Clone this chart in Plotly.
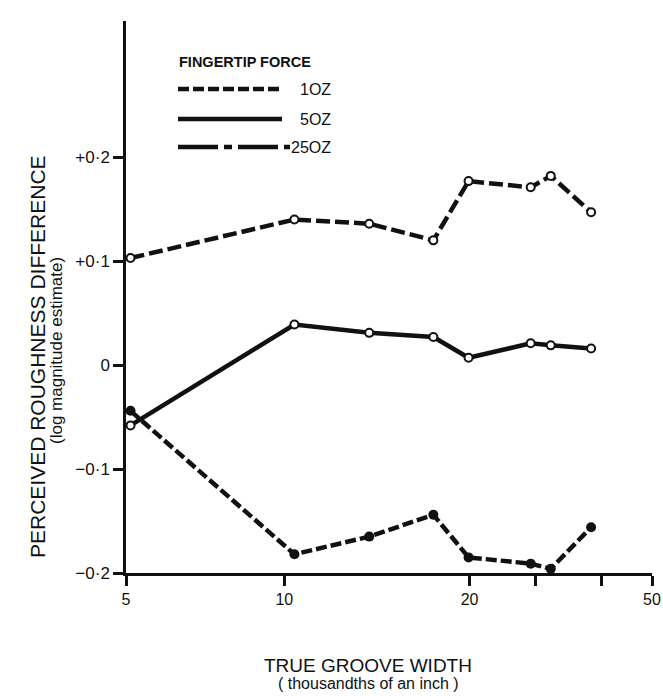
import plotly.graph_objects as go
import math

# ---- data ----
groove_width = [5.1, 10.45, 14.5, 19.2, 22.4, 29.4, 32.1, 38.3]
force_1oz = [-0.044, -0.182, -0.165, -0.144, -0.185, -0.191, -0.196, -0.156]
force_5oz = [-0.058, 0.039, 0.031, 0.027, 0.007, 0.021, 0.019, 0.016]
force_25oz = [0.103, 0.140, 0.136, 0.120, 0.177, 0.171, 0.182, 0.147]

x_tickvals = [5, 10, 22.5, 30, 40, 50]
x_ticktext = ["5", "10", "20", "", "", "50"]
x_top_tickvals = [10, 22.5, 30, 40]
y_tickvals = [0.2, 0.1, 0, -0.1, -0.2]
y_ticktext = ["+0·2", "+0·1", "0", "−0·1", "−0·2"]
y_right_tickvals = [0.2, 0.1, 0, -0.1]

legend_title = "FINGERTIP FORCE"
legend_labels = ["1OZ", "5OZ", "25OZ"]

FONT = "Liberation Sans"
NARROW = "Liberation Sans Narrow, Liberation Sans, Arial"
INK = "#111111"

fig = go.Figure()

fig.add_trace(go.Scatter(
    x=groove_width, y=force_25oz, mode="lines+markers", name="25OZ",
    line=dict(color=INK, width=4.5, dash="14px,5px"),
    marker=dict(symbol="circle", size=8, color="white", line=dict(color=INK, width=2)),
    showlegend=False))
fig.add_trace(go.Scatter(
    x=groove_width, y=force_1oz, mode="lines+markers", name="1OZ",
    line=dict(color=INK, width=4.5, dash="11px,4px"),
    marker=dict(symbol="circle", size=10, color=INK),
    showlegend=False))
fig.add_trace(go.Scatter(
    x=groove_width, y=force_5oz, mode="lines+markers", name="5OZ",
    line=dict(color=INK, width=4.5),
    marker=dict(symbol="circle", size=8, color="white", line=dict(color=INK, width=2)),
    showlegend=False))

xrange = [math.log10(5), math.log10(50)]
yrange = [-0.2, 0.331]

common = dict(showgrid=False, zeroline=False, automargin=False,
              showline=True, linewidth=2.5, linecolor=INK,
              ticks="outside", tickwidth=2.5, tickcolor=INK)

fig.update_layout(
    width=663, height=696,
    margin=dict(l=126, r=11, t=21, b=123, autoexpand=False),
    paper_bgcolor="white", plot_bgcolor="white",
    font=dict(family=FONT, color=INK, size=14),
    xaxis=dict(type="log", range=xrange, tickmode="array",
               tickvals=x_tickvals, ticktext=x_ticktext, ticklen=10,
               tickfont=dict(family=FONT, size=16, color=INK), **common),
    yaxis=dict(range=yrange, tickmode="array",
               tickvals=y_tickvals, ticktext=y_ticktext, ticklen=10,
               tickfont=dict(family=FONT, size=17, color=INK), **common),
    xaxis2=dict(type="log", range=xrange, overlaying="x", side="top", anchor="y",
                tickmode="array", tickvals=x_top_tickvals, showticklabels=False,
                ticklen=12, **common),
    yaxis2=dict(range=yrange, overlaying="y", side="right", anchor="x",
                tickmode="array", tickvals=y_right_tickvals, showticklabels=False,
                ticklen=10, **common),
)

# ---- hand-drawn style legend (paper coordinates) ----
def px_x(px):
    return (px - 126) / 526.0

def px_y(py):
    return (573 - py) / 552.0

legend_rows = [
    (89, 282, "11px,4px"),
    (119, 282, "solid"),
    (147, 290, "40px,6px,8px,6px"),
]
for (py, xend, dash), label in zip(legend_rows, legend_labels):
    fig.add_shape(type="line", xref="paper", yref="paper",
                  x0=px_x(178), x1=px_x(xend), y0=px_y(py), y1=px_y(py),
                  line=dict(color=INK, width=4.5, dash=dash))
    fig.add_annotation(xref="paper", yref="paper", x=px_x(333), y=px_y(py),
                       text=label, showarrow=False, xanchor="right", yanchor="middle",
                       font=dict(family=NARROW, size=16, color=INK))

fig.add_annotation(xref="paper", yref="paper", x=px_x(177), y=px_y(62),
                   text="<b>" + legend_title + "</b>", showarrow=False,
                   xanchor="left", yanchor="middle",
                   font=dict(family=NARROW, size=14.5, color=INK))

# ---- axis titles ----
fig.add_annotation(xref="paper", yref="paper", x=px_x(368), y=px_y(665),
                   text="TRUE GROOVE WIDTH", showarrow=False,
                   xanchor="center", yanchor="middle",
                   font=dict(family=NARROW, size=19, color=INK))
fig.add_annotation(xref="paper", yref="paper", x=px_x(368), y=px_y(683),
                   text="( thousandths of an inch )", showarrow=False,
                   xanchor="center", yanchor="middle",
                   font=dict(family=FONT, size=16, color=INK))
fig.add_annotation(xref="paper", yref="paper", x=px_x(37), y=px_y(357),
                   text="PERCEIVED ROUGHNESS DIFFERENCE", showarrow=False,
                   textangle=-90, xanchor="center", yanchor="middle",
                   font=dict(family=NARROW, size=21, color=INK))
fig.add_annotation(xref="paper", yref="paper", x=px_x(56), y=px_y(351),
                   text="(log magnitude estimate)", showarrow=False,
                   textangle=-90, xanchor="center", yanchor="middle",
                   font=dict(family=FONT, size=17, color=INK))

fig.write_html("out.html")
